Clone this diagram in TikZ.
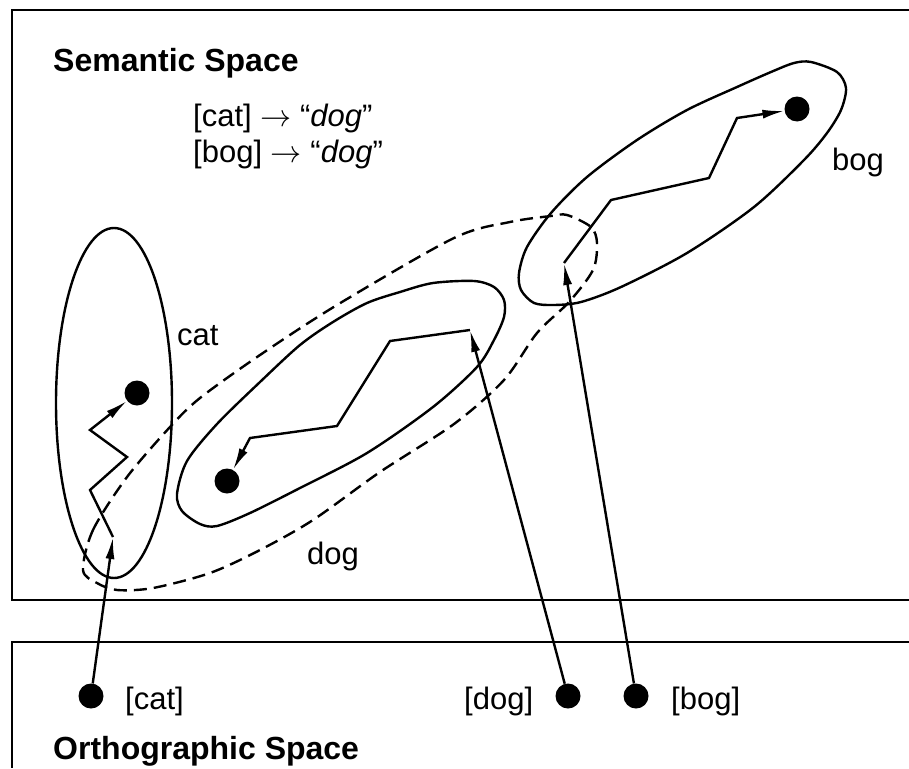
\documentclass[tikz,border=0pt]{standalone}
\usepackage{graphicx}
\usepackage{fontspec}
\setmainfont{Liberation Sans}
\usetikzlibrary{arrows.meta}
\tikzset{
  frame/.style={line width=2.4pt},
  blob/.style={line width=2.4pt},
  reach/.style={line width=2.4pt,dash pattern=on 13pt off 7pt},
  pt/.style={circle,fill,inner sep=0pt,minimum size=25pt},
  walk/.style={line width=2.4pt,-{Latex[length=22pt,width=9pt]}},
  lbl/.style={inner sep=0pt,anchor=base west,font=\fontsize{31}{36}\selectfont},
  ttl/.style={inner sep=0pt,anchor=base west,font=\fontsize{32}{38}\selectfont\bfseries}
}
\newcommand{\spot}[2]{\node[pt] (#1) at (#2) {};}
\newcommand{\maps}{\scalebox{1.25}{$\rightarrow$}}

\begin{document}
\begin{tikzpicture}[x=1pt,y=-1pt]
\useasboundingbox (0,0) rectangle (909,768);
\draw[frame] (909,10) -| (12,600) -- (909,600);
\draw[frame] (909,642) -| (12,768);
\node[ttl] (sem) at (53,71) {Semantic Space};
\node[ttl] (orth) at (53,759) {Orthographic Space};
\node[lbl] (rule1) at (193,126) {[cat] \maps{} “\textit{dog}”};
\node[lbl] (rule2) at (193,162) {[bog] \maps{} “\textit{dog}”};

\draw[blob] (114,403) ellipse [x radius=58,y radius=175];
\draw[blob] plot[smooth cycle] coordinates {(177,494) (187,461) (217,424) (260,382) (300,345) (333,322) (367,303) (400,292) (433,283) (474,281) (494,287) (504,300) (504,317) (494,340) (477,367) (433,407) (367,453) (300,488) (250,513) (217,526) (200,524) (182,511)};
\draw[blob] plot[smooth cycle] coordinates {(811,62) (837,72) (846,88) (841,110) (827,133) (804,160) (754,207) (687,253) (621,287) (581,302) (554,305) (534,303) (521,290) (519,273) (527,247) (551,213) (587,177) (637,140) (687,110) (737,87) (771,72) (794,63)};
\draw[reach] plot[smooth cycle] coordinates {(83,570) (93,530) (127,477) (170,427) (200,398) (260,355) (337,305) (454,238) (510,222) (551,216) (567,215) (591,227) (597,243) (593,270) (569,302) (537,333) (504,380) (454,424) (380,472) (313,520) (260,550) (210,573) (153,588) (117,590) (97,583)};

\node[lbl] (cat) at (177,345) {cat};
\node[lbl] (dog) at (307,564) {dog};
\node[lbl] (bog) at (832,170) {bog};

\spot{scat}{137,393}
\spot{sdog}{227,481}
\spot{sbog}{797,109}
\spot{ocat}{91,696}
\spot{odog}{568,696}
\spot{obog}{636,696}
\node[lbl] (wcat) at (125,709) {[cat]};
\node[lbl] (wdog) at (464,709) {[dog]};
\node[lbl] (wbog) at (671,709) {[bog]};

\coordinate (ecat) at (113,537);
\coordinate (edog) at (470,330);
\coordinate (ebog) at (564,263);
\draw[walk] (ocat) -- (ecat);
\draw[walk] (odog) -- (edog);
\draw[walk] (obog) -- (ebog);
\draw[walk] (ecat) -- (90,490) -- (127,457) -- (90,430) -- (scat);
\draw[walk] (edog) -- (390,341) -- (337,426) -- (250,438) -- (sdog);
\draw[walk] (ebog) -- (611,200) -- (709,178) -- (737,118) -- (sbog);
\end{tikzpicture}
\end{document}
